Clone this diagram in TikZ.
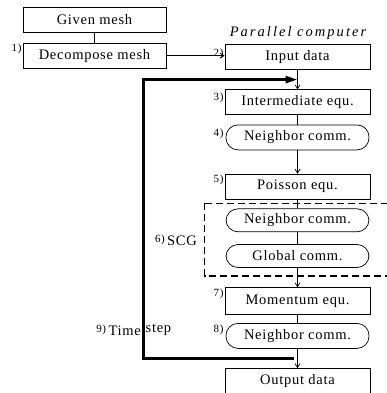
\documentclass[tikz,border=0pt]{standalone}
\usepackage{fontspec}
\setmainfont{Liberation Serif}[LetterSpace=5]
\usepackage{tikz}
\usetikzlibrary{arrows.meta, positioning, calc}

\newcommand{\stepno}[1]{\raisebox{3pt}{\fontsize{11}{11}\selectfont #1}}

\begin{document}
\begin{tikzpicture}[
    x=1pt, y=1pt,
    node distance=10pt,
    box/.style={
        draw, line width=0.7pt,
        minimum width=145pt, minimum height=25pt, inner sep=1pt,
        font=\fontsize{14.5}{16}\selectfont
    },
    rbox/.style={box, rounded corners=12pt, minimum width=143pt},
    num/.style={font=\fontsize{11}{11}\selectfont, inner sep=0pt, anchor=north east},
    txt/.style={font=\fontsize{14.5}{16}\selectfont, inner sep=0pt},
    flow/.style={line width=0.7pt},
    arr/.style={flow, -{Straight Barb[length=4pt,width=5pt]}},
    loopline/.style={line width=2.6pt, -{Triangle[length=12pt,width=7pt]}}
]
\useasboundingbox (0,0) rectangle (387,-393);

% host side
\node[box, minimum width=143pt] (given) at (94.5,-20) {Given mesh};
\node[box, minimum width=143pt, below=10pt of given] (decomp) {Decompose mesh};

% parallel computer
\node[txt, font=\fontsize{14.5}{16}\selectfont\itshape\addfontfeature{LetterSpace=14}] (pc) at (298,-33) {Parallel computer};
\node[box] (input) at (297.5,-57) {Input data};
\node[box, below=19.5pt of input] (inter) {Intermediate equ.};
\node[rbox, below=9.5pt of inter] (nb1) {Neighbor comm.};
\node[box, below=23.5pt of nb1] (poisson) {Poisson equ.};
\node[rbox, below=9pt of poisson, minimum height=23pt] (nb2) {Neighbor comm.};
\node[rbox, below=12pt of nb2, minimum height=23pt] (glob) {Global comm.};
\node[box, below=19.5pt of glob, minimum height=27pt] (mom) {Momentum equ.};
\node[rbox, below=8pt of mom] (nb3) {Neighbor comm.};
\node[box, below=19.5pt of nb3] (out) {Output data};

% step numbers
\node[num] (n1) at ($(decomp.north west)+(-1,-1)$) {1)};
\node[num] (n2) at ($(input.north west)+(-1,-5)$) {2)};
\node[num] (n3) at ($(inter.north west)+(-1,-3)$) {3)};
\node[num] (n4) at ($(nb1.north west)+(-2,-4)$) {4)};
\node[num] (n5) at ($(poisson.north west)+(-1,-1)$) {5)};
\node[num] (n7) at ($(mom.north west)+(-1,-1)$) {7)};
\node[num] (n8) at ($(nb3.north west)+(-2,-2)$) {8)};

\node[txt, anchor=east] (scg) at (197,-240) {\stepno{6)}\,SCG};
\node[txt, anchor=east] (tstep) at (141,-330) {\stepno{9)}\,Time};
\node[txt, anchor=west] (tstep2) at (145.5,-330) {step};

% SCG frame
\draw[line width=1.6pt, dash pattern=on 7pt off 4pt]
    ($(nb2.north west)+(-21,5)$) rectangle ($(glob.south east)+(25,-8)$);

% flow
\draw[flow] (given) -- (decomp);
\draw[arr] (decomp.east) -- (decomp.east -| input.west);
\draw[arr] (input) -- (inter);
\draw[flow] (inter) -- (nb1);
\draw[arr] (nb1) -- (poisson);
\draw[flow] (poisson) -- (nb2);
\draw[flow] (nb2) -- (glob);
\draw[arr] (glob) -- (mom);
\draw[flow] (mom) -- (nb3);
\draw[arr] (nb3) -- (out);

% time step loop
\coordinate (tB) at ($(nb3.south)!0.5!(out.north)$);
\coordinate (tT) at ($(input.south)!0.5!(inter.north)$);
\coordinate (loopx) at (143.5,0);
\draw[loopline] ($(tB)+(-4,0)$) -- (tB -| loopx) |- (tT);

\end{tikzpicture}
\end{document}
